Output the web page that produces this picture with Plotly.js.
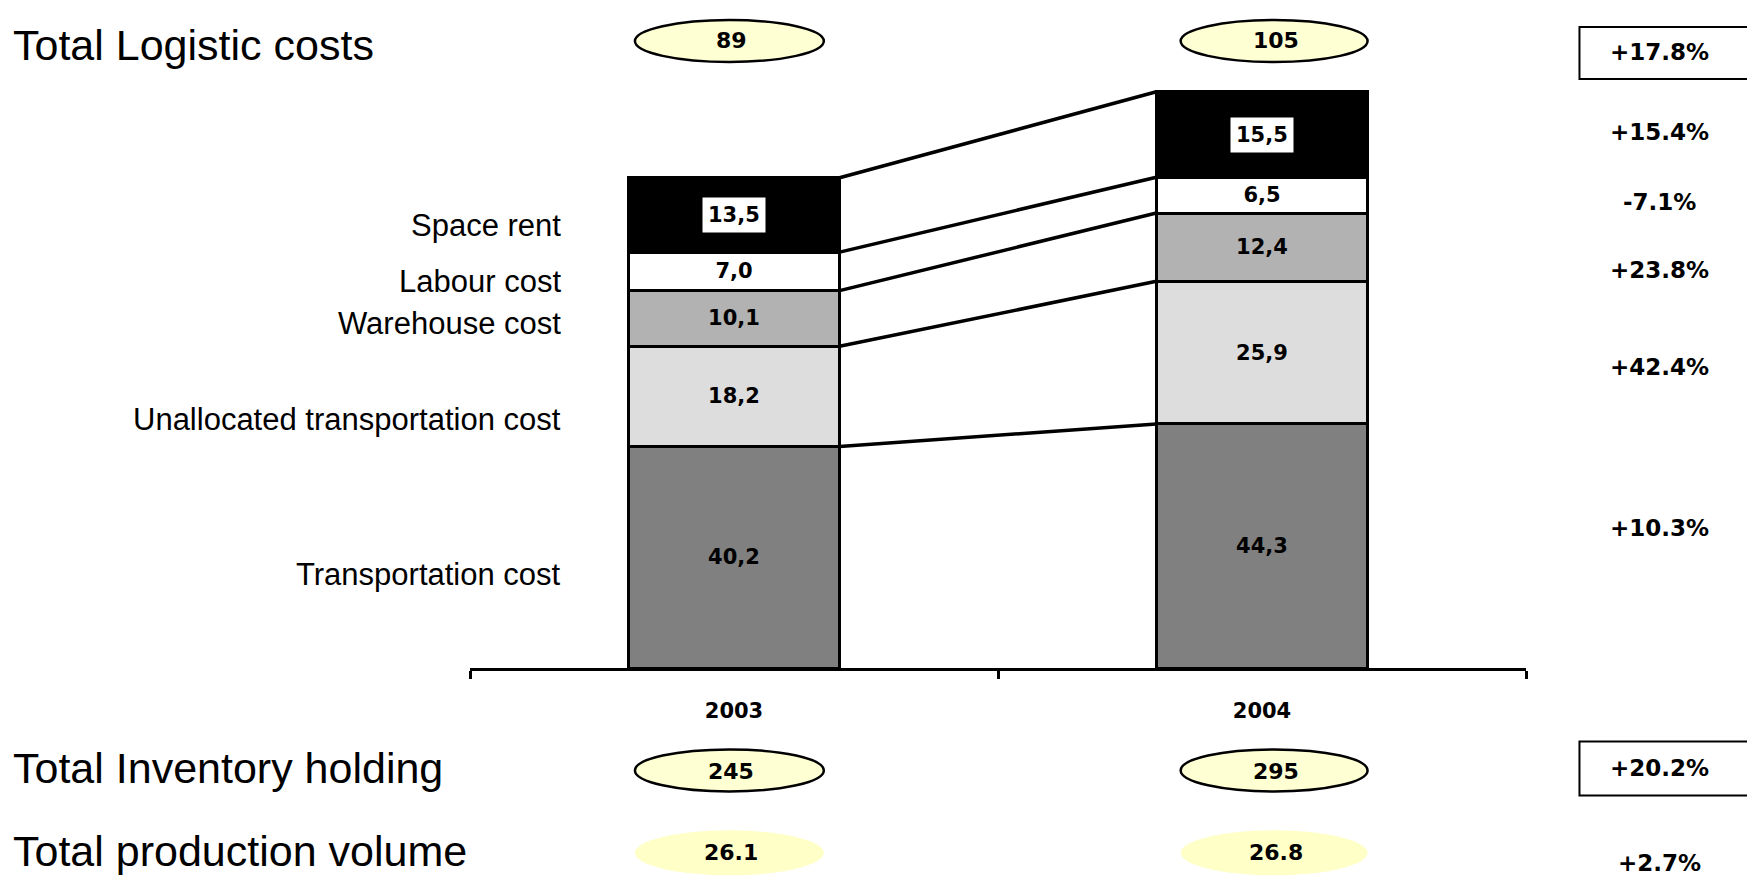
<!DOCTYPE html>
<html>
<head>
<meta charset="utf-8">
<script src="https://cdn.plot.ly/plotly-3.0.1.min.js"></script>
<style>html,body{margin:0;padding:0;background:#fff;}#chart{width:1747px;height:876px;}</style>
</head>
<body>
<div id="chart"></div>
<script>
// ---- data ----
const years = ['2003', '2004'];
const segmentNames = ['Transportation cost', 'Unallocated transportation cost', 'Warehouse cost', 'Labour cost', 'Space rent'];
const transportation = [40.2, 44.3];
const unallocated = [18.2, 25.9];
const warehouse = [10.1, 12.4];
const labour = [7.0, 6.5];
const spaceRent = [13.5, 15.5];
const totalLogistic = ['89', '105'];
const totalInventory = ['245', '295'];
const totalProduction = ['26.1', '26.8'];
const changeLabels = ['+17.8%', '+15.4%', '-7.1%', '+23.8%', '+42.4%', '+10.3%', '+20.2%', '+2.7%'];

// ---- layout helpers (pixel -> paper) ----
const W = 1747, H = 876, L = 470, R = 1526.5, B = 668.5, T = 60;
const PXU = 5.513;
const px = x => (x - L) / (R - L);
const py = y => (B - y) / (B - T);

const series = [transportation, unallocated, warehouse, labour, spaceRent];
const colors = ['#808080', '#dddddd', '#b2b2b2', '#ffffff', '#000000'];

const traces = series.map((vals, i) => ({
  type: 'bar', x: years, y: vals, name: segmentNames[i],
  marker: {color: colors[i], line: {color: '#000', width: 3}},
  texttemplate: i === 4 ? '' : '%{y:.1f}',
  textposition: 'inside', insidetextanchor: 'middle', textangle: 0,
  constraintext: 'none',
  textfont: {family: 'DejaVu Sans', size: 21, color: '#000', weight: 'bold'},
  hoverinfo: 'skip', showlegend: false
}));

// connector lines between cumulative tops
const cum = years.map((_, j) => { let s = 0; return series.map(v => (s += v[j])); });
for (let i = 0; i < series.length; i++) {
  traces.push({
    type: 'scatter', mode: 'lines', xaxis: 'x2', yaxis: 'y',
    x: [0.2, 0.8], y: [cum[0][i], cum[1][i]],
    line: {color: '#000', width: 3.5}, hoverinfo: 'skip', showlegend: false
  });
}

const annotations = [];
const shapes = [];
const bigFont = {family: 'Liberation Sans, Arial', size: 43, color: '#000'};
const labFont = {family: 'Liberation Sans, Arial', size: 31, color: '#000'};
const numFont = {family: 'DejaVu Sans', size: 22, color: '#000', weight: 'bold'};
const pctFont = {family: 'DejaVu Sans', size: 23, color: '#000', weight: 'bold'};

function textAt(x, y, text, font, xanchor) {
  annotations.push({xref: 'paper', yref: 'paper', x: px(x), y: py(y), text: text,
    showarrow: false, font: font, xanchor: xanchor || 'center', yanchor: 'middle'});
}

// left titles
textAt(11, 45, 'Total Logistic costs', bigFont, 'left');
textAt(11, 769, 'Total Inventory holding', bigFont, 'left');
textAt(11, 852, 'Total production volume', bigFont, 'left');

// segment labels (left)
const segLabelY = [575, 420, 324, 282, 226];
segmentNames.forEach((n, i) => textAt(563, segLabelY[i], n, labFont, 'right'));

// ellipses with totals
const ellX = [[635, 824], [1181, 1368]];
function ellipse(x0, x1, y0, y1, bordered, fill) {
  shapes.push({type: 'circle', xref: 'paper', yref: 'paper', x0: px(x0), x1: px(x1), y0: py(y1), y1: py(y0),
    fillcolor: fill, line: {color: '#000', width: bordered ? 2.5 : 0}, layer: 'below'});
}
years.forEach((_, j) => {
  const [a, b] = ellX[j];
  ellipse(a, b, 20, 62, true, '#ffffd4');
  textAt((a + b) / 2 + 2, 40, totalLogistic[j], numFont);
  ellipse(a, b, 750, 792, true, '#ffffd4');
  textAt((a + b) / 2 + 2, 772, totalInventory[j], numFont);
  ellipse(a, b, 831, 876, false, '#ffffc8');
  textAt((a + b) / 2 + 2, 853, totalProduction[j], numFont);
});

// space rent labels with white box (x = category index)
years.forEach((yr, j) => {
  const base = cum[j][3];
  annotations.push({xref: 'x', yref: 'y', x: j, y: base + spaceRent[j] / 2,
    text: spaceRent[j].toFixed(1).replace('.', ','), showarrow: false,
    font: {family: 'DejaVu Sans', size: 21, color: '#000', weight: 'bold'},
    bgcolor: '#fff', borderpad: 5, xanchor: 'center', yanchor: 'middle'});
});

// change percentages
const pctY = [52, 132, 202, 270, 367, 528, 769, 864];
changeLabels.forEach((t, i) => textAt(1660, pctY[i], t, pctFont));
shapes.push({type: 'rect', xref: 'paper', yref: 'paper', x0: px(1580), x1: px(1770), y0: py(79), y1: py(27), line: {color: '#000', width: 2}});
shapes.push({type: 'rect', xref: 'paper', yref: 'paper', x0: px(1580), x1: px(1770), y0: py(796), y1: py(742), line: {color: '#000', width: 2}});

const layout = {
  width: W, height: H,
  margin: {l: L, r: W - R, t: T, b: H - B, pad: 0},
  paper_bgcolor: '#fff', plot_bgcolor: '#fff',
  separators: ',.',
  barmode: 'stack', bargap: 0.6,
  showlegend: false,
  xaxis: {type: 'category', range: [-0.5, 1.5], showline: true, linecolor: '#000', linewidth: 3,
    ticks: 'outside', tickson: 'boundaries', ticklen: 8, tickwidth: 3, tickcolor: '#000',
    showgrid: false, zeroline: false, ticklabelstandoff: 22,
    tickfont: {family: 'DejaVu Sans', size: 21, color: '#000', weight: 'bold'}, fixedrange: true},
  xaxis2: {overlaying: 'x', range: [-0.5, 1.5], visible: false, anchor: 'y'},
  yaxis: {range: [0, (B - T) / PXU], visible: false, showgrid: false, zeroline: false, fixedrange: true},
  annotations: annotations, shapes: shapes,
  hovermode: false
};

Plotly.newPlot('chart', traces, layout, {staticPlot: true, displayModeBar: false});
</script>
</body>
</html>
